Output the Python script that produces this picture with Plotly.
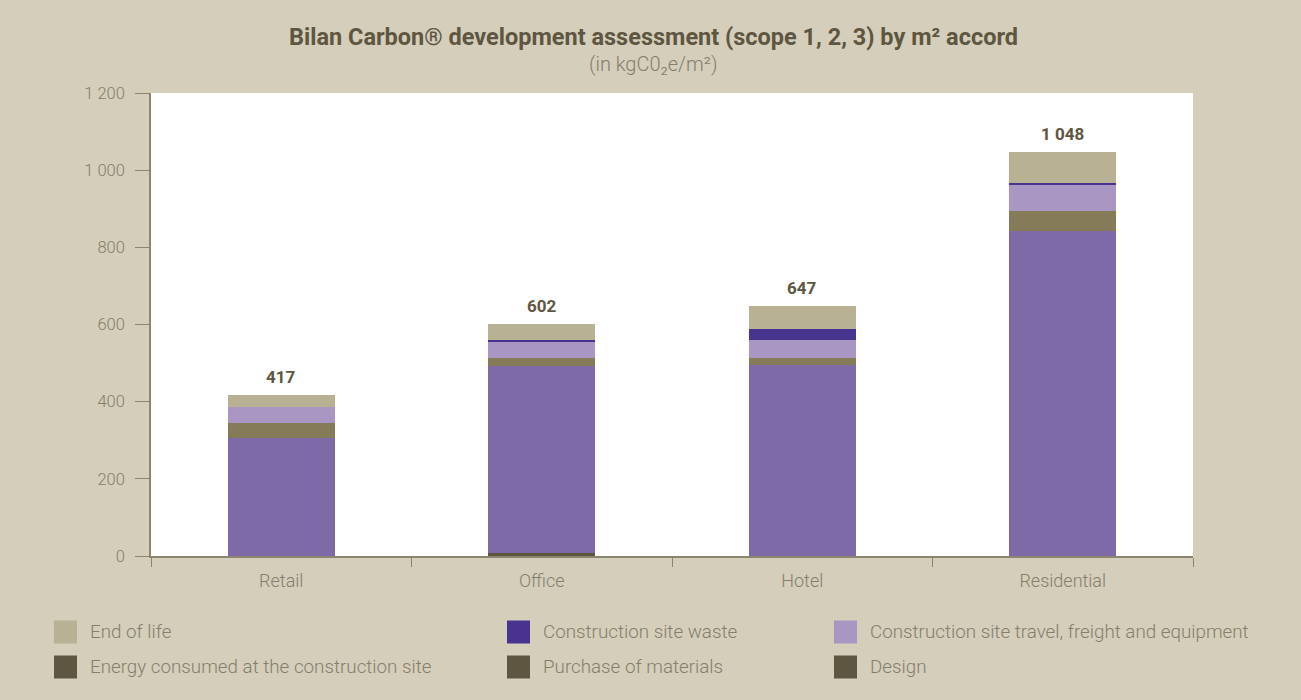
import plotly.graph_objects as go

# Data (kgCO2e per m2)
categories = ["Retail", "Office", "Hotel", "Residential"]
design = [0, 7, 0, 0]
purchase_of_materials = [306, 485, 495, 842]
energy_consumed = [39, 21, 18, 52]
site_travel = [41, 44, 47, 67]
site_waste = [0, 3, 28, 6]
end_of_life = [31, 42, 59, 81]
totals = [417, 602, 647, 1048]
total_labels = ["417", "602", "647", "1 048"]

y_tickvals = [0, 200, 400, 600, 800, 1000, 1200]
y_ticktext = ["0", "200", "400", "600", "800", "1 000", "1 200"]

# Legend entries (label, swatch colour), laid out in rows of three
legend_rows = [
    [("End of life", "#b9b193"),
     ("Construction site waste", "#46348f"),
     ("Construction site travel, freight and equipment", "#aa96c2")],
    [("Energy consumed at the construction site", "#5e5640"),
     ("Purchase of materials", "#5e5640"),
     ("Design", "#5e5640")],
]

BG = "#d4cebb"
DARK = "#5e5640"
GREY = "#857e6b"
AXIS = "#8c8670"

W, H = 1301, 700
L, R, T, B = 151, 108, 93, 144
PW, PH = W - L - R, H - T - B


def px(x):
    return (x - L) / PW


def py(y):
    return (H - B - y) / PH


series = [
    ("Design", design, "#5e5640"),
    ("Purchase of materials", purchase_of_materials, "#7e6aa6"),
    ("Energy consumed at the construction site", energy_consumed, "#857b58"),
    ("Construction site travel, freight and equipment", site_travel, "#aa96c2"),
    ("Construction site waste", site_waste, "#46348f"),
    ("End of life", end_of_life, "#b9b193"),
]

fig = go.Figure()
for name, vals, color in series:
    fig.add_trace(go.Bar(
        x=categories, y=vals, name=name, marker=dict(color=color, line=dict(width=0)),
        showlegend=False, width=0.41,
    ))

annotations = []
for cat, tot, lab in zip(categories, totals, total_labels):
    annotations.append(dict(
        x=cat, y=tot, xref="x", yref="y", text=f"<b>{lab}</b>", showarrow=False,
        yanchor="bottom", yshift=6,
        font=dict(family="Roboto", size=17, color=DARK),
    ))

# Title and subtitle
annotations.append(dict(
    x=px(653), y=py(37), xref="paper", yref="paper", showarrow=False,
    text="<b>Bilan Carbon® development assessment (scope 1, 2, 3) by m² accord</b>",
    font=dict(family="Roboto", size=23.5, color=DARK), xanchor="center", yanchor="middle",
))
annotations.append(dict(
    x=px(653), y=py(64), xref="paper", yref="paper", showarrow=False,
    text="(in kgC0₂e/m²)",
    font=dict(family="Roboto", size=20, color=GREY, weight=300),
    xanchor="center", yanchor="middle",
))

shapes = []
col_x = [54, 507, 834]
row_y = [632, 667]
for r, row in enumerate(legend_rows):
    for c, (label, color) in enumerate(row):
        x0 = col_x[c]
        yc = row_y[r]
        shapes.append(dict(
            type="rect", xref="paper", yref="paper",
            x0=px(x0), x1=px(x0 + 23), y0=py(yc + 11.5), y1=py(yc - 11.5),
            fillcolor=color, line=dict(width=0),
        ))
        annotations.append(dict(
            x=px(x0 + 34), y=py(yc), xref="paper", yref="paper", showarrow=False,
            text=label, xanchor="left", yanchor="middle",
            font=dict(family="Roboto", size=18.8, color=GREY, weight=300),
        ))

fig.update_layout(
    barmode="stack",
    width=W, height=H,
    margin=dict(l=L, r=R, t=T, b=B, pad=0),
    paper_bgcolor=BG, plot_bgcolor="white",
    annotations=annotations, shapes=shapes,
    showlegend=False,
)
fig.update_xaxes(
    type="category", showgrid=False, zeroline=False,
    showline=True, linecolor=AXIS, linewidth=1.5,
    ticks="outside", tickson="boundaries", ticklen=9, tickcolor=AXIS, tickwidth=1.2,
    ticklabelstandoff=8,
    tickfont=dict(family="Roboto", size=18, color=GREY, weight=300),
)
fig.update_yaxes(
    range=[0, 1200], tickvals=y_tickvals, ticktext=y_ticktext,
    showgrid=False, zeroline=False,
    showline=True, linecolor=AXIS, linewidth=1.5,
    ticks="outside", ticklen=14, tickcolor=AXIS, tickwidth=1.2,
    ticklabelstandoff=7,
    tickfont=dict(family="Roboto", size=16.5, color=GREY, weight=300),
)

fig.write_html("out.html")
